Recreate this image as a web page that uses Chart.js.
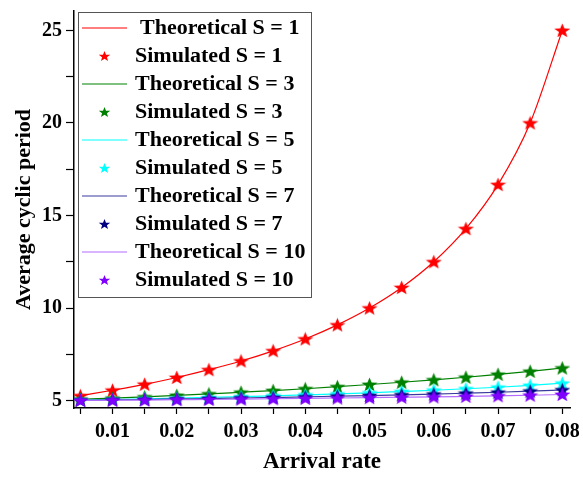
<!DOCTYPE html>
<html>
<head>
<meta charset="utf-8">
<script src="https://cdn.jsdelivr.net/npm/chart.js@4.4.1/dist/chart.umd.min.js"></script>
<style>
  html, body { margin: 0; padding: 0; background: #fff; }
  #wrap { width: 583px; height: 480px; }
</style>
</head>
<body>
<div id="wrap"><canvas id="cyclicChart" width="583" height="480"></canvas></div>
<script>
const arrivalRate = [0.005, 0.01, 0.015, 0.02, 0.025, 0.03, 0.035, 0.04,
                     0.045, 0.05, 0.055, 0.06, 0.065, 0.07, 0.075, 0.08];

const periodS1  = [5.26, 5.56, 5.88, 6.25, 6.67, 7.14, 7.69, 8.33, 9.09, 10.0, 11.11, 12.5, 14.29, 16.67, 20.0, 25.0];
const periodS3  = [5.07, 5.13, 5.20, 5.28, 5.36, 5.45, 5.54, 5.64, 5.75, 5.87, 5.99, 6.12, 6.26, 6.42, 6.58, 6.76];
const periodS5  = [5.03, 5.06, 5.09, 5.13, 5.17, 5.21, 5.26, 5.31, 5.36, 5.42, 5.49, 5.56, 5.64, 5.72, 5.82, 5.94];
const periodS7  = [5.02, 5.04, 5.06, 5.09, 5.11, 5.14, 5.17, 5.20, 5.24, 5.27, 5.31, 5.35, 5.40, 5.45, 5.51, 5.58];
const periodS10 = [5.01, 5.02, 5.03, 5.05, 5.06, 5.08, 5.10, 5.12, 5.14, 5.16, 5.18, 5.20, 5.23, 5.26, 5.29, 5.33];

const xTicks = [0.005, 0.01, 0.015, 0.02, 0.025, 0.03, 0.035, 0.04,
                0.045, 0.05, 0.055, 0.06, 0.065, 0.07, 0.075, 0.08];
const yTicks = [5, 7.5, 10, 12.5, 15, 17.5, 20, 22.5, 25];

const serverCounts = ["1", "3", "5", "7", "10"];
const seriesValues = [periodS1, periodS3, periodS5, periodS7, periodS10];
const lineColors = ["#ff0000", "#008000", "#00ffff", "#3b3b9e", "#b36bff"];
const starColors = ["#ff0000", "#008000", "#00ffff", "#000080", "#8000ff"];

const FONT = "'Liberation Serif', 'Times New Roman', serif";

function starPath(ctx, cx, cy, r, sx) {
  const inner = r * 0.42;
  ctx.beginPath();
  for (let i = 0; i < 10; i++) {
    const rad = i % 2 === 0 ? r : inner;
    const a = -Math.PI / 2 + i * Math.PI / 5;
    const px = cx + sx * rad * Math.cos(a), py = cy + rad * Math.sin(a);
    if (i === 0) ctx.moveTo(px, py); else ctx.lineTo(px, py);
  }
  ctx.closePath();
}

function makeStar(color) {
  const c = document.createElement("canvas");
  c.width = 17; c.height = 15;
  const g = c.getContext("2d");
  g.fillStyle = color;
  starPath(g, 8.5, 8, 7.6, 1.12);
  g.fill();
  return c;
}

function toPoints(vals) {
  return arrivalRate.map((x, i) => ({ x: x, y: vals[i] }));
}

const datasets = [];
serverCounts.forEach((s, i) => {
  datasets.push({
    label: "Theoretical S = " + s,
    kind: "line",
    data: toPoints(seriesValues[i]),
    borderColor: lineColors[i],
    borderWidth: 1.2,
    pointRadius: 0,
    cubicInterpolationMode: "monotone",
    order: 10 - i
  });
  datasets.push({
    label: "Simulated S = " + s,
    kind: "star",
    data: toPoints(seriesValues[i]),
    showLine: false,
    pointStyle: makeStar(starColors[i]),
    starColor: starColors[i],
    order: 4 - i
  });
});

// legend box drawn inside the plot area
const boxLegend = {
  id: "boxLegend",
  afterDraw(chart) {
    const ctx = chart.ctx;
    const x0 = 78.5, y0 = 12.5, w = 233, h = 285, rowH = 28;
    ctx.save();
    ctx.fillStyle = "#fff";
    ctx.fillRect(x0, y0, w, h);
    ctx.strokeStyle = "#555";
    ctx.lineWidth = 1;
    ctx.strokeRect(x0, y0, w, h);
    ctx.textBaseline = "middle";
    chart.data.datasets.forEach((ds, i) => {
      const cy = 28 + i * rowH;
      if (ds.kind === "line") {
        ctx.strokeStyle = ds.borderColor;
        ctx.lineWidth = 1.2;
        ctx.beginPath();
        ctx.moveTo(82, cy);
        ctx.lineTo(127, cy);
        ctx.stroke();
      } else {
        ctx.fillStyle = ds.starColor;
        starPath(ctx, 104.5, cy + 0.5, 5.5, 1.1);
        ctx.fill();
      }
      ctx.save();
      ctx.translate(i === 0 ? 140 : 135, cy + 1);
      ctx.scale(1.1, 1);
      ctx.font = "bold 20px " + FONT;
      ctx.fillStyle = "#000";
      ctx.fillText(ds.label, 0, 0);
      ctx.restore();
    });
    ctx.restore();
  }
};

new Chart(document.getElementById("cyclicChart"), {
  type: "line",
  data: { datasets: datasets },
  plugins: [boxLegend],
  options: {
    responsive: false,
    animation: false,
    layout: { padding: { top: 11, right: 13, left: 0, bottom: 0 } },
    plugins: {
      legend: { display: false },
      tooltip: { enabled: false }
    },
    scales: {
      x: {
        type: "linear",
        min: 0.004,
        max: 0.0812,
        afterBuildTicks: (scale) => { scale.ticks = xTicks.map(v => ({ value: v })); },
        afterFit: (scale) => {
          scale.height = 72;
          scale.paddingLeft = 0;
          scale.paddingRight = 0;
        },
        ticks: {
          color: "#000",
          font: { family: FONT, size: 20, weight: "bold" },
          padding: 6,
          maxRotation: 0,
          autoSkip: false,
          callback: (v) => (Math.round(v * 1000) % 10 === 0 ? v.toFixed(2) : "")
        },
        grid: { drawOnChartArea: false, color: "#000", tickLength: 6, tickWidth: 1.2 },
        border: { color: "#000", width: 1.5 },
        title: {
          display: true,
          text: "Arrival rate",
          color: "#000",
          font: { family: FONT, size: 23, weight: "bold" },
          padding: { bottom: 4 }
        }
      },
      y: {
        min: 4.6,
        max: 26.05,
        afterBuildTicks: (scale) => { scale.ticks = yTicks.map(v => ({ value: v })); },
        afterFit: (scale) => {
          scale.width = 74;
          scale.paddingTop = 0;
          scale.paddingBottom = 0;
        },
        ticks: {
          color: "#000",
          font: { family: FONT, size: 20, weight: "bold" },
          padding: 4,
          autoSkip: false,
          callback: (v) => (v % 5 === 0 ? String(v) : "")
        },
        grid: { drawOnChartArea: false, color: "#000", tickLength: 8, tickWidth: 1.2 },
        border: { color: "#000", width: 1.5 },
        title: {
          display: true,
          text: "Average cyclic period",
          color: "#000",
          font: { family: FONT, size: 22, weight: "bold" },
          padding: { top: 11 }
        }
      }
    }
  }
});
</script>
</body>
</html>
